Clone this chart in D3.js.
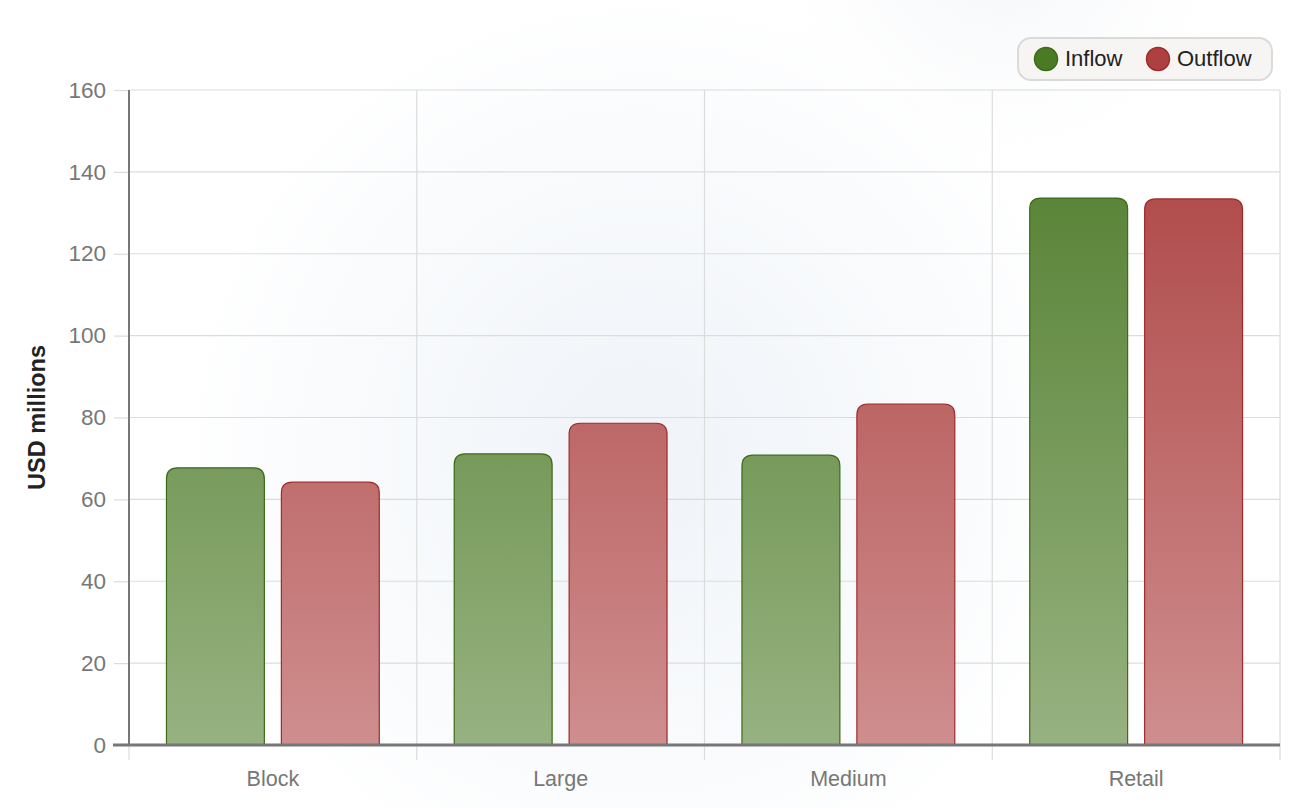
<!DOCTYPE html>
<html><head><meta charset="utf-8">
<script src="https://cdn.jsdelivr.net/npm/d3@7"></script>
<style>body{margin:0;background:#fff;}svg{display:block;font-family:"Liberation Sans",Arial,sans-serif;}</style>
</head><body>
<svg id="c" width="1316" height="808"></svg>
<script>
const categories = ["Block", "Large", "Medium", "Retail"];
const seriesNames = ["Inflow", "Outflow"];
const inflow = [67.7, 71.1, 70.8, 133.6];
const outflow = [64.2, 78.6, 83.3, 133.4];
const yTicks = [0, 20, 40, 60, 80, 100, 120, 140, 160];

const svg = d3.select("#c");
const W = 1316, H = 808;
const m = {l: 129, r: 36, t: 90, b: 63};
const defs = svg.append("defs");

// background
const bg = defs.append("radialGradient").attr("id","bg").attr("gradientUnits","userSpaceOnUse")
  .attr("cx",640).attr("cy",450).attr("r",460);
bg.append("stop").attr("offset","0").attr("stop-color","#eff3f8");
bg.append("stop").attr("offset","0.6").attr("stop-color","#f8fafc");
bg.append("stop").attr("offset","1").attr("stop-color","#ffffff");
svg.append("rect").attr("width",W).attr("height",H).attr("fill","url(#bg)");
const bg2 = defs.append("radialGradient").attr("id","bg2").attr("gradientUnits","userSpaceOnUse")
  .attr("cx",1000).attr("cy",-60).attr("r",260);
bg2.append("stop").attr("offset","0").attr("stop-color","#eef1f5").attr("stop-opacity",0.8);
bg2.append("stop").attr("offset","1").attr("stop-color","#ffffff").attr("stop-opacity",0);
svg.append("rect").attr("width",W).attr("height",H).attr("fill","url(#bg2)");

const x = d3.scaleBand().domain(categories).range([m.l, W - m.r]);
const x1 = d3.scaleBand().domain(seriesNames).range([0, x.bandwidth()]).paddingInner(0.148).paddingOuter(0.326);
const y = d3.scaleLinear().domain([0,160]).range([H - m.b, m.t]);

// gradients
function grad(id, top, bottom) {
  const g = defs.append("linearGradient").attr("id", id).attr("gradientUnits","userSpaceOnUse")
    .attr("x1",0).attr("x2",0).attr("y1",y(160)).attr("y2",y(0));
  g.append("stop").attr("offset","0").attr("stop-color",top);
  g.append("stop").attr("offset","1").attr("stop-color",bottom);
}
grad("gIn", "#4f7c2b", "#97b281");
grad("gOut", "#ab4040", "#cf8e8e");

// grid
svg.append("g").selectAll("line").data(yTicks.slice(1)).join("line")
  .attr("x1", m.l).attr("x2", W - m.r).attr("y1", d => y(d)).attr("y2", d => y(d))
  .attr("stroke","#dcdcdc").attr("stroke-width",1.2);
const bounds = categories.map(c => x(c)).concat([x(categories[3]) + x.bandwidth()]);
svg.append("g").selectAll("line").data(bounds.slice(1)).join("line")
  .attr("x1", d => d).attr("x2", d => d).attr("y1", m.t).attr("y2", y(0) + 15)
  .attr("stroke","#dcdcdc").attr("stroke-width",1.2);
svg.append("line").attr("x1", m.l).attr("x2", m.l).attr("y1", y(0)).attr("y2", y(0)+15)
  .attr("stroke","#dcdcdc").attr("stroke-width",1.2);

// bars
function roundTop(x0, y0, w, h, r) {
  r = Math.min(r, h, w/2);
  return `M${x0},${y0+h}V${y0+r}Q${x0},${y0} ${x0+r},${y0}H${x0+w-r}Q${x0+w},${y0} ${x0+w},${y0+r}V${y0+h}Z`;
}
const data = [];
categories.forEach((c,i) => {
  data.push({c, s:"Inflow", v: inflow[i]});
  data.push({c, s:"Outflow", v: outflow[i]});
});
svg.append("g").selectAll("path").data(data).join("path")
  .attr("d", d => roundTop(x(d.c) + x1(d.s), y(d.v), x1.bandwidth(), y(0) - y(d.v), 11))
  .attr("fill", d => d.s === "Inflow" ? "url(#gIn)" : "url(#gOut)")
  .attr("stroke", d => d.s === "Inflow" ? "#3d6b16" : "#a22a2a")
  .attr("stroke-width", 1.2);

// y axis
const ya = svg.append("g").attr("transform", `translate(${m.l},0)`)
  .call(d3.axisLeft(y).tickValues(yTicks).tickSize(15).tickPadding(8));
ya.select(".domain").remove();
ya.selectAll(".tick line").attr("stroke","#dcdcdc").attr("stroke-width",1.2);
ya.selectAll(".tick text").attr("fill","#777").style("font-size","22.5px").style("font-family","Liberation Sans, Arial, sans-serif");
svg.append("line").attr("x1", m.l).attr("x2", m.l).attr("y1", m.t).attr("y2", y(0))
  .attr("stroke","#777").attr("stroke-width",2);

// x axis
const xa = svg.append("g").attr("transform", `translate(0,${y(0)})`)
  .call(d3.axisBottom(x).tickSize(0).tickPadding(26));
xa.select(".domain").remove();
xa.selectAll(".tick text").attr("fill","#777").style("font-size","21.5px").style("font-family","Liberation Sans, Arial, sans-serif");
svg.append("line").attr("x1", 113).attr("x2", W - m.r).attr("y1", y(0)).attr("y2", y(0))
  .attr("stroke","#777").attr("stroke-width",3);

// y label
svg.append("text").attr("transform", `translate(45,${(m.t + y(0))/2}) rotate(-90)`)
  .attr("text-anchor","middle").attr("fill","#222").style("font-size","23.5px").style("font-weight","bold")
  .text("USD millions");

// legend
const lg = svg.append("g");
lg.append("rect").attr("x",1018).attr("y",38).attr("width",254).attr("height",42).attr("rx",13)
  .attr("fill","#f6f5f3").attr("stroke","#dadada").attr("stroke-width",2);
const lx = [1046, 1158];
const lc = [["#4a7a24","#3d6b16"],["#ad4040","#a22a2a"]];
seriesNames.forEach((s,i) => {
  lg.append("circle").attr("cx", lx[i]).attr("cy", 59).attr("r", 11.5)
    .attr("fill", lc[i][0]).attr("stroke", lc[i][1]).attr("stroke-width",1.5);
  lg.append("text").attr("x", lx[i] + 19).attr("y", 66).attr("fill","#222")
    .style("font-size","22px").style("font-family","Liberation Sans, Arial, sans-serif").text(s);
});
</script>
</body></html>
